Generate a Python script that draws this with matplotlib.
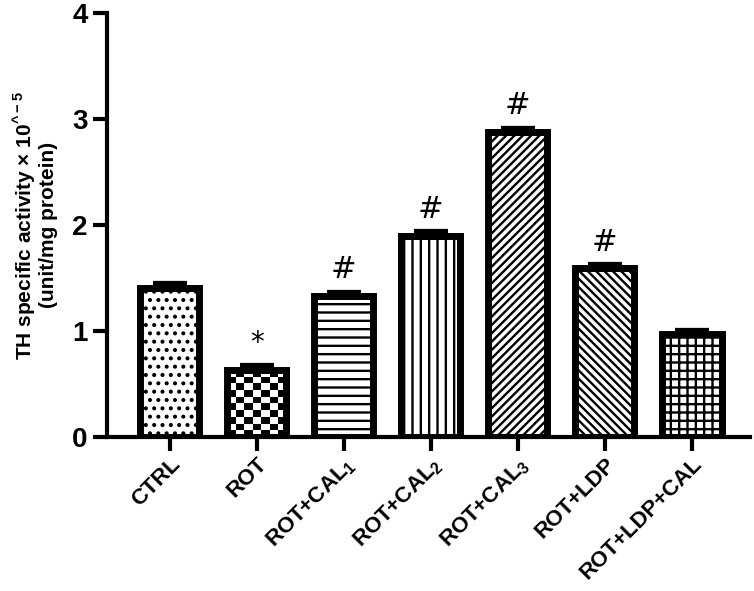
"""TH specific activity bar chart with hatched groups."""

import io

import matplotlib
matplotlib.use("Agg")
import matplotlib.pyplot as plt
import numpy as np
from matplotlib import mathtext
from matplotlib.font_manager import FontProperties

plt.rcParams["font.family"] = ["Liberation Sans", "DejaVu Sans"]
plt.rcParams["font.weight"] = "bold"
plt.rcParams["mathtext.fontset"] = "custom"
plt.rcParams["mathtext.rm"] = "Liberation Sans:bold"
plt.rcParams["mathtext.bf"] = "Liberation Sans:bold"
plt.rcParams["mathtext.default"] = "rm"
plt.rcParams["hatch.linewidth"] = 1.7

groups = ["CTRL", "ROT", "ROT+CAL$_1$", "ROT+CAL$_2$", "ROT+CAL$_3$", "ROT+LDP", "ROT+LDP+CAL"]
means = [1.41, 0.63, 1.33, 1.90, 2.88, 1.59, 0.97]
errors = [0.03, 0.04, 0.03, 0.03, 0.03, 0.03, 0.03]
markers = ["", "*", "#", "#", "#", "#", ""]
hatches = ["..", None, "--", "||", "////", "\\\\\\\\", "++"]
y_ticks = [0, 1, 2, 3, 4]


def caret_label() -> str:
    candidate = "TH specific activity \u00d7 10$^{\\textasciicircum{}-5}$"
    try:
        mathtext.math_to_image(candidate[candidate.index("$"):], io.BytesIO(),
                               prop=FontProperties(size=12), format="png")
        return candidate
    except Exception:
        return "TH specific activity \u00d7 10$^{\\wedge -5}$"


fig = plt.figure(figsize=(7.54, 5.91), dpi=100)
ax = fig.add_axes([0.142, 0.2606, 0.853, 0.7174])

x = np.arange(len(groups))
width = 0.68
bars = ax.bar(x, means, width=width, color="white", edgecolor="black",
              linewidth=5, zorder=2)
for bar, hatch in zip(bars, hatches):
    if hatch:
        bar.set_hatch(hatch)

# checkerboard fill for the ROT bar, clipped to the bar outline
rot = bars[1]
nx, ny = 7, 10
checker = (np.indices((ny, nx)).sum(axis=0) % 2).astype(float)
img = ax.imshow(checker, cmap="gray_r", vmin=0, vmax=1, interpolation="nearest",
                extent=(rot.get_x(), rot.get_x() + rot.get_width(), 0, rot.get_height()),
                aspect="auto", zorder=1.5)
img.set_clip_path(rot)
rot.set_facecolor("none")

ax.errorbar(x, means, yerr=[np.zeros(len(means)), errors], fmt="none",
            ecolor="black", elinewidth=4, capsize=12, capthick=4.5, zorder=3)

for xi, m, e, mark in zip(x, means, errors, markers):
    if mark:
        ax.text(xi, m + e + 0.08, mark, ha="center", va="bottom",
                fontsize=22 if mark == "#" else 20, fontweight="normal",
                family="DejaVu Sans")

ax.set_xlim(-0.72, 6.67)
ax.set_ylim(0, 4)
ax.set_yticks(y_ticks)
ax.set_yticklabels([str(t) for t in y_ticks], fontsize=20, fontweight="bold")
ax.set_xticks(x)
ax.set_xticklabels(groups, rotation=45, ha="right", rotation_mode="anchor",
                   fontsize=16, fontweight="bold")
ax.set_ylabel(caret_label() + "\n(unit/mg protein)", fontsize=15,
              fontweight="bold", labelpad=10, linespacing=1.1)

for side in ("top", "right"):
    ax.spines[side].set_visible(False)
for side in ("left", "bottom"):
    ax.spines[side].set_linewidth(3)
ax.tick_params(axis="both", width=3, length=10, direction="out")
ax.tick_params(axis="x", pad=2)
ax.tick_params(axis="y", pad=4)

fig.savefig("out.png", dpi=100)
